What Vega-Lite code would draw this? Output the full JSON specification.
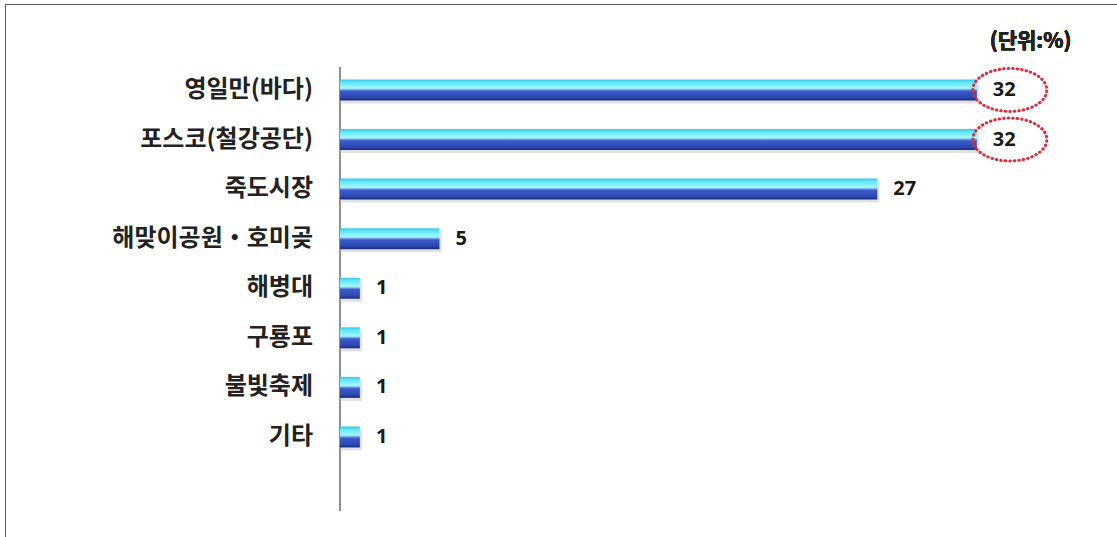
{
  "$schema": "https://vega.github.io/schema/vega-lite/v6.json",
  "width": 1112,
  "height": 533,
  "padding": {"left": 5, "top": 4, "right": 0, "bottom": 0},
  "autosize": {"type": "none"},
  "background": "white",
  "config": {"view": {"stroke": "#555555", "strokeWidth": 1}},
  "data": {
    "values": [
      {"item": "영일만(바다)", "value": 32},
      {"item": "포스코(철강공단)", "value": 32},
      {"item": "죽도시장", "value": 27},
      {"item": "해맞이공원・호미곶", "value": 5},
      {"item": "해병대", "value": 1},
      {"item": "구룡포", "value": 1},
      {"item": "불빛축제", "value": 1},
      {"item": "기타", "value": 1}
    ]
  },
  "encoding": {
    "y": {
      "field": "item", "type": "nominal", "sort": null,
      "scale": {
        "type": "point",
        "domain": [" ", "영일만(바다)", "포스코(철강공단)", "죽도시장", "해맞이공원・호미곶", "해병대", "구룡포", "불빛축제", "기타", "  "],
        "padding": 0.876, "align": 0.419
      },
      "axis": null
    }
  },
  "layer": [
    {
      "mark": {"type": "rule", "color": "#8f8f8f", "strokeWidth": 1.6, "yOffset": -23, "y2Offset": 74},
      "encoding": {
        "x": {"datum": 0, "type": "quantitative", "scale": {"domain": [-16.834, 39.045], "nice": false, "zero": false}, "axis": null},
        "y": {"datum": "영일만(바다)"},
        "y2": {"datum": "기타"}
      }
    },
    {
      "mark": {"type": "bar", "orient": "horizontal", "size": 21, "color": "#bdbdbd", "opacity": 0.45, "yOffset": 3, "xOffset": 2},
      "encoding": {
        "x": {"field": "value", "type": "quantitative"},
        "x2": {"datum": 0}
      }
    },
    {
      "mark": {
        "type": "bar", "orient": "horizontal", "size": 21,
        "color": {
          "gradient": "linear", "x1": 0, "y1": 0, "x2": 0, "y2": 1,
          "stops": [
            {"offset": 0, "color": "#3cc6e6"},
            {"offset": 0.15, "color": "#62e9fa"},
            {"offset": 0.42, "color": "#a6f7ff"},
            {"offset": 0.5, "color": "#6a95e2"},
            {"offset": 0.56, "color": "#3a5ccb"},
            {"offset": 0.85, "color": "#2c48b2"},
            {"offset": 1, "color": "#1a2d78"}
          ]
        }
      },
      "encoding": {
        "x": {"field": "value", "type": "quantitative"},
        "x2": {"datum": 0}
      }
    },
    {
      "mark": {"type": "text", "align": "right", "baseline": "middle", "dx": -27, "font": "Noto Sans CJK KR", "fontSize": 24, "fontWeight": "bold", "color": "#222222"},
      "encoding": {
        "x": {"datum": 0},
        "text": {"field": "item"}
      }
    },
    {
      "mark": {"type": "text", "align": "left", "baseline": "middle", "dx": 16, "font": "Noto Sans", "fontSize": 20, "fontWeight": "bold", "color": "#1a1a1a"},
      "encoding": {
        "x": {"field": "value", "type": "quantitative"},
        "text": {"field": "value"}
      }
    },
    {
      "transform": [{"filter": "datum.value >= 32"}],
      "mark": {
        "type": "point", "filled": false,
        "shape": "M-1,0A1,0.58,0,1,1,1,0A1,0.58,0,1,1,-1,0Z",
        "size": 5476, "xOffset": 33,
        "stroke": "#e3283a", "strokeWidth": 3, "strokeDash": [0.5, 4], "strokeCap": "round", "opacity": 1
      },
      "encoding": {
        "x": {"field": "value", "type": "quantitative"}
      }
    },
    {
      "mark": {"type": "text", "align": "center", "baseline": "middle", "dy": -48, "font": "Noto Sans CJK KR", "fontSize": 21, "fontWeight": "bold", "color": "#222222"},
      "encoding": {
        "x": {"datum": 34.7},
        "y": {"datum": "영일만(바다)"},
        "text": {"value": "(단위:%)"}
      }
    }
  ]
}
